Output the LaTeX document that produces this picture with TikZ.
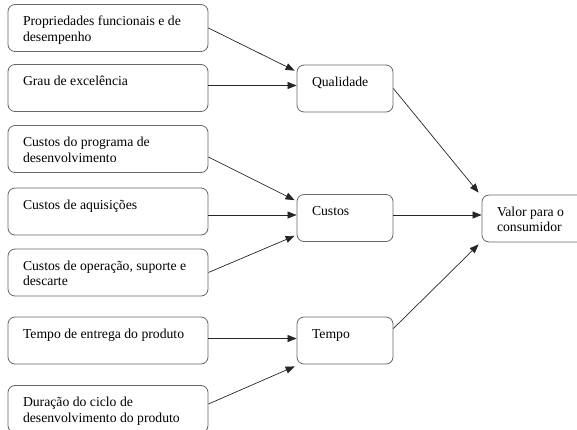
\documentclass[tikz,border=0pt]{standalone}
\usepackage{fontspec}
\setmainfont{Liberation Serif}
\usetikzlibrary{
    arrows.meta,
    calc,
    positioning,
}

\newcommand{\boxtext}[2]{\parbox[c][26.5pt][t]{#1}{\raggedright\strut #2}}

\begin{document}
\begin{tikzpicture}[x=1pt,y=-1pt,>={Triangle[length=9pt,width=7pt]},font=\fontsize{13.7}{15.5}\selectfont]

    \tikzstyle{commonNode}=[rectangle, rounded corners=7pt, draw=black!60, line width=0.8pt, inner sep=0pt, minimum height=47pt]
    \tikzstyle{factor}=[commonNode, minimum width=200pt]
    \tikzstyle{group}=[commonNode, minimum width=96pt]
    \tikzstyle{result}=[commonNode, minimum width=110pt]
    \tikzstyle{post}=[->, line width=0.7pt, draw=black!85]

    \clip (0,0) rectangle (577,429);

    % Spacing the columns out
    \def \leftx {108}
    \def \midx {345}
    \def \rightx {537}

    % Factors
    \node at (\leftx, 28)    [factor] (PFD) {\boxtext{170pt}{Propriedades funcionais e de\\desempenho}};
    \node at (\leftx, 88)    [factor] (GE)  {\boxtext{170pt}{Grau de excelência}};
    \node at (\leftx, 149)   [factor] (CPD) {\boxtext{170pt}{Custos do programa de\\desenvolvimento}};
    \node at (\leftx, 211.5) [factor] (CA)  {\boxtext{170pt}{Custos de aquisições}};
    \node at (\leftx, 272.5) [factor] (COS) {\boxtext{170pt}{Custos de operação, suporte e\\descarte}};
    \node at (\leftx, 340.5) [factor] (TEP) {\boxtext{170pt}{Tempo de entrega do produto}};
    \node at (\leftx, 409)   [factor] (DCD) {\boxtext{170pt}{Duração do ciclo de\\desenvolvimento do produto}};

    % Groups and result
    \node at (\midx, 88.5)   [group] (Q) {\boxtext{66pt}{Qualidade}};
    \node at (\midx, 218)    [group] (C) {\boxtext{66pt}{Custos}};
    \node at (\midx, 340.5)  [group] (T) {\boxtext{66pt}{Tempo}};
    \node at (\rightx, 218.5) [result] (V) {\boxtext{80pt}{Valor para o\\consumidor}};

    % Connection points
    \coordinate (Qtop) at ($(Q.north west)+(-2,6)$);
    \coordinate (Qmid) at ($(Q.west)+(0,-3)$);
    \coordinate (Ctop) at ($(C.north west)+(-2,6)$);
    \coordinate (Cmid) at ($(C.west)+(0,-3)$);
    \coordinate (Cbot) at ($(C.south west)+(-2,-6)$);
    \coordinate (Tmid) at ($(T.west)+(0,-2)$);
    \coordinate (Tbot) at ($(T.south west)+(-2,2)$);
    \coordinate (Vtop) at ($(V.north west)+(-3,-2)$);
    \coordinate (Vmid) at ($(V.west)+(0,-3.5)$);
    \coordinate (Vbot) at ($(V.south west)+(-3,2)$);
    \coordinate (CPDout) at ($(CPD.east)+(0,8)$);
    \coordinate (DCDout) at ($(DCD.east)+(0,-5)$);
    \coordinate (Tout) at ($(T.east)+(0,-12)$);

    % Arrows
    \draw[post] (PFD.east) -- (Qtop);
    \draw[post] (GE.east |- Qmid) -- (Qmid);
    \draw[post] (CPDout) -- (Ctop);
    \draw[post] (CA.east |- Cmid) -- (Cmid);
    \draw[post] (COS.east) -- (Cbot);
    \draw[post] (TEP.east |- Tmid) -- (Tmid);
    \draw[post] (DCDout) -- (Tbot);
    \draw[post] (Q.east) -- (Vtop);
    \draw[post] (C.east |- Vmid) -- (Vmid);
    \draw[post] (Tout) -- (Vbot);
\end{tikzpicture}
\end{document}
